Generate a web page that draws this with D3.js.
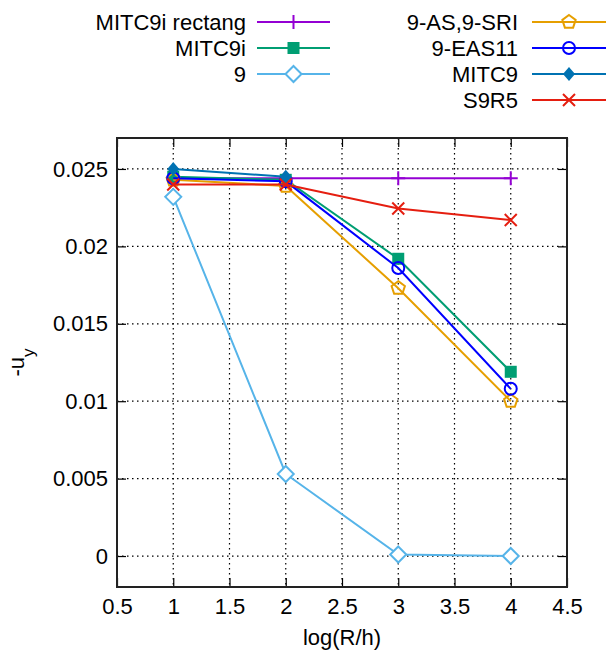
<!DOCTYPE html>
<html>
<head>
<meta charset="utf-8">
<script src="https://cdn.jsdelivr.net/npm/d3@7"></script>
<style>
  body { margin: 0; background: #fff; }
  text { font-family: "Liberation Sans", Arial, sans-serif; fill: #000; }
</style>
</head>
<body>
<div id="graph"></div>
<script>
// x positions (log(R/h))
var xVals = [1, 2, 3, 4]

// -u_y values per element type
var mitc9iRect = [0.0244, 0.0244, 0.0244, 0.0244]
var mitc9i = [0.0245, 0.0243, 0.0192, 0.0119]
var nine = [0.0232, 0.0053, 0.0001, 0.0000]
var as9sri = [0.0243, 0.0239, 0.0173, 0.0100]
var eas11 = [0.0244, 0.0242, 0.0186, 0.0108]
var mitc9 = [0.0250, 0.0245]
var s9r5 = [0.0240, 0.0240, 0.02245, 0.0217]

var xTicks = [0.5, 1, 1.5, 2, 2.5, 3, 3.5, 4, 4.5]
var yTicks = [0, 0.005, 0.01, 0.015, 0.02, 0.025]

var series = [
  {name: "MITC9i rectang", values: mitc9iRect, color: "#9400d3", marker: "plus"},
  {name: "MITC9i", values: mitc9i, color: "#009e73", marker: "square"},
  {name: "9", values: nine, color: "#56b4e9", marker: "diamondOpen"},
  {name: "9-AS,9-SRI", values: as9sri, color: "#e69f00", marker: "pentagon"},
  {name: "9-EAS11", values: eas11, color: "#0000ff", marker: "circle"},
  {name: "MITC9", values: mitc9, color: "#0072b2", marker: "diamondFilled"},
  {name: "S9R5", values: s9r5, color: "#e51e10", marker: "cross"}
]

var width = 606, height = 655
var plotLeft = 117, plotRight = 567, plotTop = 138, plotBottom = 587

var svg = d3.select("#graph").append("svg")
  .attr("width", width)
  .attr("height", height)

var xScale = d3.scaleLinear().domain([0.5, 4.5]).range([plotLeft, plotRight])
var yScale = d3.scaleLinear().domain([-0.002, 0.027]).range([plotBottom, plotTop])

// grid
var grid = svg.append("g").attr("class", "grid")
grid.selectAll("line.gx")
  .data(xTicks.slice(1, -1))
  .enter().append("line")
  .attr("x1", function(d) { return xScale(d) })
  .attr("x2", function(d) { return xScale(d) })
  .attr("y1", plotTop).attr("y2", plotBottom)
  .attr("stroke", "#000").attr("stroke-width", 1.2)
  .attr("stroke-dasharray", "1.5,3.5")
grid.selectAll("line.gy")
  .data(yTicks)
  .enter().append("line")
  .attr("y1", function(d) { return yScale(d) })
  .attr("y2", function(d) { return yScale(d) })
  .attr("x1", plotLeft).attr("x2", plotRight)
  .attr("stroke", "#000").attr("stroke-width", 1.2)
  .attr("stroke-dasharray", "1.5,3.5")

// axes (ticks inward, mirrored)
var tickLen = 9
svg.append("g")
  .attr("transform", "translate(0," + plotBottom + ")")
  .call(d3.axisBottom(xScale).tickValues(xTicks).tickSize(-tickLen).tickPadding(11).tickFormat(d3.format("")))
svg.append("g")
  .attr("transform", "translate(0," + plotTop + ")")
  .call(d3.axisTop(xScale).tickValues(xTicks).tickSize(-tickLen).tickFormat(""))
svg.append("g")
  .attr("transform", "translate(" + plotLeft + ",0)")
  .call(d3.axisLeft(yScale).tickValues(yTicks).tickSize(-tickLen).tickPadding(9).tickFormat(d3.format("")))
svg.append("g")
  .attr("transform", "translate(" + plotRight + ",0)")
  .call(d3.axisRight(yScale).tickValues(yTicks).tickSize(-tickLen).tickFormat(""))

svg.selectAll(".domain").remove()
svg.selectAll(".tick line").attr("stroke", "#000").attr("stroke-width", 1.2)
svg.selectAll(".tick text").style("font-size", "22px").style("font-family", "Liberation Sans, Arial, sans-serif").attr("fill", "#000")

// frame
svg.append("rect")
  .attr("x", plotLeft).attr("y", plotTop)
  .attr("width", plotRight - plotLeft).attr("height", plotBottom - plotTop)
  .attr("fill", "none").attr("stroke", "#222").attr("stroke-width", 2)

// axis labels
svg.append("text")
  .attr("x", (plotLeft + plotRight) / 2).attr("y", 645)
  .attr("text-anchor", "middle")
  .style("font-size", "22px")
  .text("log(R/h)")

var yl = svg.append("text")
  .attr("transform", "translate(24," + ((plotTop + plotBottom) / 2) + ") rotate(-90)")
  .attr("text-anchor", "middle")
  .style("font-size", "22px")
yl.append("tspan").text("-u")
yl.append("tspan").attr("baseline-shift", "sub").style("font-size", "17px").text("y")

function drawMarker(g, type, cx, cy, color) {
  if (type == "plus") {
    g.append("path")
      .attr("d", "M" + (cx - 7) + "," + cy + "H" + (cx + 7) + "M" + cx + "," + (cy - 7) + "V" + (cy + 7))
      .attr("stroke", color).attr("stroke-width", 2).attr("fill", "none")
  } else if (type == "square") {
    g.append("rect")
      .attr("x", cx - 6).attr("y", cy - 6).attr("width", 12).attr("height", 12)
      .attr("fill", color)
  } else if (type == "diamondOpen") {
    g.append("path")
      .attr("d", "M" + cx + "," + (cy - 8) + "L" + (cx + 8) + "," + cy + "L" + cx + "," + (cy + 8) + "L" + (cx - 8) + "," + cy + "Z")
      .attr("stroke", color).attr("stroke-width", 2).attr("fill", "#fff")
  } else if (type == "diamondFilled") {
    g.append("path")
      .attr("d", "M" + cx + "," + (cy - 7) + "L" + (cx + 6) + "," + cy + "L" + cx + "," + (cy + 7) + "L" + (cx - 6) + "," + cy + "Z")
      .attr("fill", color)
  } else if (type == "pentagon") {
    var pts = []
    for (var i = 0; i < 5; ++i) {
      var a = -Math.PI / 2 + i * 2 * Math.PI / 5
      pts.push([cx + 7 * Math.cos(a), cy + 7 * Math.sin(a)])
    }
    g.append("path")
      .attr("d", "M" + pts.join("L") + "Z")
      .attr("stroke", color).attr("stroke-width", 2).attr("fill", "none")
  } else if (type == "circle") {
    g.append("circle")
      .attr("cx", cx).attr("cy", cy).attr("r", 6)
      .attr("stroke", color).attr("stroke-width", 2).attr("fill", "none")
  } else if (type == "cross") {
    g.append("path")
      .attr("d", "M" + (cx - 6) + "," + (cy - 6) + "L" + (cx + 6) + "," + (cy + 6) + "M" + (cx - 6) + "," + (cy + 6) + "L" + (cx + 6) + "," + (cy - 6))
      .attr("stroke", color).attr("stroke-width", 2).attr("fill", "none")
  }
}

var line = d3.line()
  .x(function(d, i) { return xScale(xVals[i]) })
  .y(function(d) { return yScale(d) })

series.forEach(function(s) {
  var g = svg.append("g")
  g.append("path")
    .datum(s.values)
    .attr("d", line)
    .attr("fill", "none")
    .attr("stroke", s.color)
    .attr("stroke-width", 2)
  s.values.forEach(function(v, i) {
    drawMarker(g, s.marker, xScale(xVals[i]), yScale(v), s.color)
  })
})

// legend: first three in left column, rest in right column
var legendRows = [22, 48, 74, 100]
series.forEach(function(s, i) {
  var col = i < 3 ? 0 : 1
  var row = i < 3 ? i : i - 3
  var textX = col == 0 ? 246 : 518
  var lineX1 = col == 0 ? 257 : 532
  var lineX2 = col == 0 ? 330 : 606
  var y = legendRows[row]
  var g = svg.append("g")
  g.append("text")
    .attr("x", textX).attr("y", y)
    .attr("dy", "0.36em")
    .attr("text-anchor", "end")
    .style("font-size", "22px")
    .text(s.name)
  g.append("line")
    .attr("x1", lineX1).attr("x2", lineX2)
    .attr("y1", y).attr("y2", y)
    .attr("stroke", s.color).attr("stroke-width", 2)
  drawMarker(g, s.marker, (lineX1 + lineX2) / 2, y, s.color)
})
</script>
</body>
</html>
